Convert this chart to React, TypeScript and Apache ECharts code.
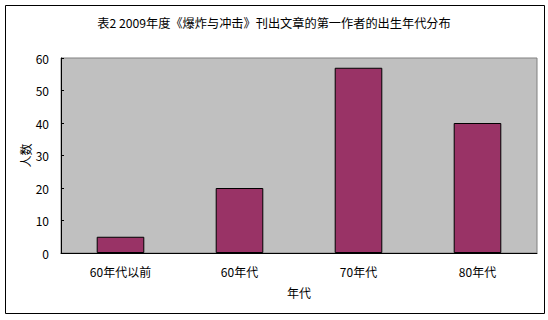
import React, { useEffect, useRef } from "react";
import * as echarts from "echarts";

const categories = ["60年代以前", "60年代", "70年代", "80年代"];
const values = [5, 20, 57, 40];
const titleText = "表2 2009年度《爆炸与冲击》刊出文章的第一作者的出生年代分布";
const xName = "年代";
const yName = "人数";

export default function App() {
  const ref = useRef<HTMLDivElement>(null);
  useEffect(() => {
    if (!ref.current) return;
    const chart = echarts.init(ref.current, undefined, { renderer: "svg" });
    const font = "'Noto Sans CJK SC', sans-serif";
    chart.setOption({
      animation: false,
      backgroundColor: "#ffffff",
      textStyle: { fontFamily: font },
      title: {
        text: titleText,
        left: "center",
        top: 12,
        textStyle: { fontSize: 12.2, fontWeight: "normal", color: "#000", fontFamily: font },
      },
      graphic: [
        {
          type: "rect",
          shape: { x: 5.5, y: 5.5, width: 539, height: 308 },
          style: { fill: "none", stroke: "#000", lineWidth: 1 },
          silent: true,
        },
      ],
      grid: {
        left: 61,
        right: 11,
        top: 58,
        bottom: 67,
        show: true,
        backgroundColor: "#c0c0c0",
        borderColor: "#808080",
        borderWidth: 1,
      },
      xAxis: {
        type: "category",
        data: categories,
        name: xName,
        nameLocation: "middle",
        nameGap: 33,
        nameMoveOverlap: false,
        nameTextStyle: { fontSize: 12, color: "#000", fontFamily: font },
        axisLine: { lineStyle: { color: "#000", width: 1 } },
        axisTick: { inside: true, length: 4, lineStyle: { color: "#000" } },
        axisLabel: { fontSize: 12, color: "#000", margin: 12, fontFamily: font },
        splitLine: { show: false },
      },
      yAxis: {
        type: "value",
        min: 0,
        max: 60,
        interval: 10,
        name: yName,
        nameLocation: "middle",
        nameGap: 30,
        nameMoveOverlap: false,
        nameRotate: 90,
        nameTextStyle: { fontSize: 12, color: "#000", fontFamily: font },
        axisLine: { show: true, lineStyle: { color: "#000", width: 1 } },
        axisTick: { show: true, inside: true, length: 3, lineStyle: { color: "#000" } },
        axisLabel: { fontSize: 12, color: "#000", margin: 12, fontFamily: font },
        splitLine: { show: false },
      },
      series: [
        {
          type: "bar",
          data: values,
          barWidth: "40%",
          itemStyle: { color: "#993366", borderColor: "#000", borderWidth: 1 },
        },
      ],
    });
    return () => chart.dispose();
  }, []);
  return <div ref={ref} style={{ width: 548, height: 320, position: "absolute", left: 0, top: 0 }} />;
}
